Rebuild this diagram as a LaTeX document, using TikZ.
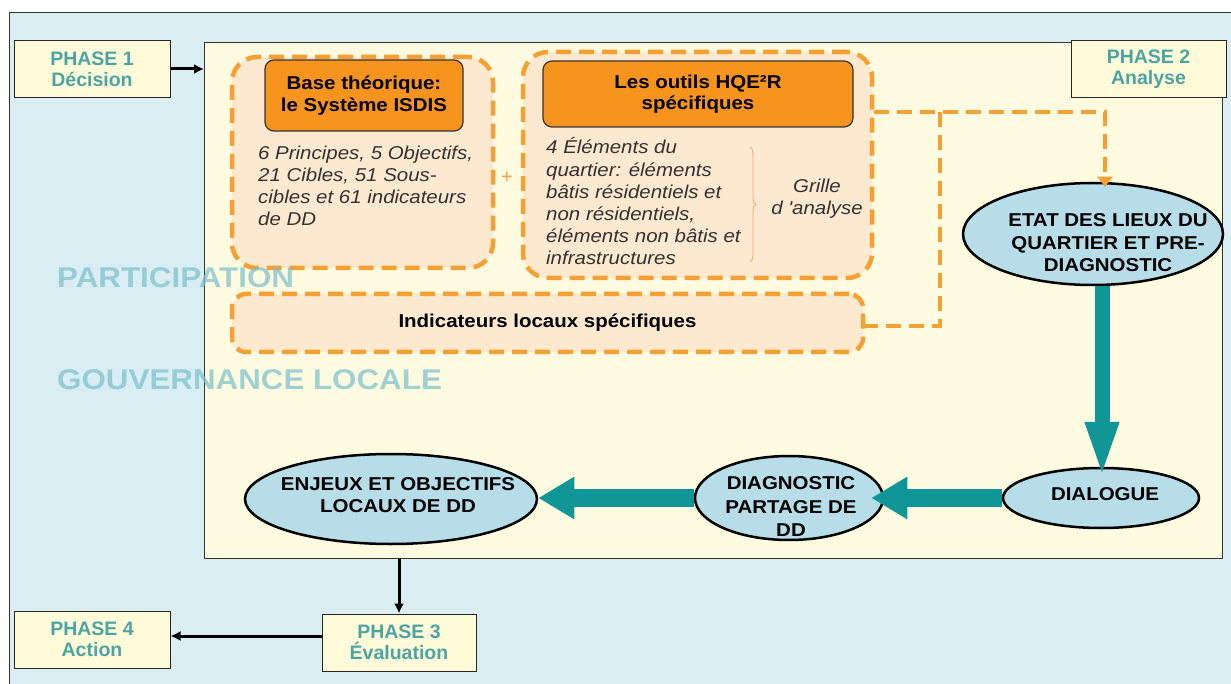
\documentclass[tikz,border=0pt]{standalone}
\usepackage{fontspec}
\setmainfont{Liberation Sans}
\newfontfamily\widesans[FakeStretch=1.1]{Liberation Sans}
\usetikzlibrary{arrows.meta,shapes.geometric,decorations.pathreplacing}

\definecolor{framebg}{RGB}{218,237,242}
\definecolor{panelfill}{RGB}{255,251,225}
\definecolor{phasefill}{RGB}{255,250,215}
\definecolor{phaseteal}{RGB}{75,165,165}
\definecolor{dashorange}{RGB}{245,160,50}
\definecolor{hdrorange}{RGB}{247,148,30}
\definecolor{peach}{RGB}{253,233,208}
\definecolor{bodygray}{RGB}{50,50,50}
\definecolor{bubblefill}{RGB}{183,221,232}
\definecolor{flowteal}{RGB}{16,150,150}
\definecolor{markteal}{RGB}{120,192,204}
\definecolor{bracecol}{RGB}{232,176,110}

\tikzset{
  phasebox/.style={draw=black!85, line width=1pt, fill=phasefill,
    minimum width=156pt, minimum height=57pt, inner sep=0pt, align=center,
    text=phaseteal, font=\fontsize{19.5}{21}\selectfont\bfseries},
  dashbox/.style={draw=dashorange, line width=4.5pt, dash pattern=on 15pt off 8pt,
    fill=peach, inner sep=0pt},
  headerbox/.style={draw=black!80, line width=1.2pt, fill=hdrorange,
    rounded corners=9pt, inner sep=0pt, align=center,
    font=\widesans\fontsize{18.6}{21.5}\selectfont\bfseries},
  bodytext/.style={inner sep=0pt, align=left, text=bodygray,
    font=\widesans\fontsize{18.6}{22.2}\selectfont\itshape},
  bubble/.style={ellipse, draw=black, line width=2.5pt, fill=bubblefill, inner sep=0pt},
  bubbletext/.style={inner sep=0pt, align=center,
    font=\widesans\fontsize{18.6}{22.5}\selectfont\bfseries},
  flowh/.style={draw=flowteal, line width=18pt, -{Triangle[width=40pt,length=36pt]}},
  flowv/.style={draw=flowteal, line width=15pt, -{Triangle[width=30pt,length=57pt]}},
  link/.style={draw=black, line width=3pt, -{Latex[length=10pt,width=10pt]}},
  feed/.style={draw=dashorange, line width=4.5pt, dash pattern=on 15pt off 8pt},
  watermark/.style={inner sep=0pt, anchor=west, text=markteal, text opacity=0.7,
    font=\widesans\fontsize{28.5}{30}\selectfont\bfseries},
}

\begin{document}
\begin{tikzpicture}[x=1pt,y=-1pt]
  \useasboundingbox (0,0) rectangle (1231,684);
  \fill[white] (0,0) rectangle (1231,684);

  % outer frame and the central panel
  \node[draw=black!80, line width=1pt, fill=framebg, anchor=north west,
        minimum width=1240pt, minimum height=700pt, inner sep=0pt] (frame) at (9,12) {};
  \node[draw=black!80, line width=1pt, fill=panelfill, anchor=north west,
        minimum width=1018pt, minimum height=516pt, inner sep=0pt] (panel) at (204,42) {};

  % phases
  \node[phasebox] (phase1) at (92,69) {PHASE 1\\Décision};
  \node[phasebox, minimum width=155pt] (phase2) at (1148.5,69) {PHASE 2\\Analyse};
  \node[phasebox, minimum width=154pt] (phase3) at (399,642.5) {PHASE 3\\Évaluation};
  \node[phasebox] (phase4) at (92,639.5) {PHASE 4\\Action};

  % dashed groups
  \node[dashbox, rounded corners=25pt, minimum width=261pt, minimum height=211pt] (boxA) at (362.5,162.5) {};
  \node[dashbox, rounded corners=25pt, minimum width=349pt, minimum height=226pt] (boxB) at (697.5,165) {};
  \node[dashbox, rounded corners=14pt, minimum width=631pt, minimum height=58pt,
        font=\widesans\fontsize{18.6}{22}\selectfont\bfseries] (boxC) at (547.5,323)
        {\raisebox{-4pt}{Indicateurs locaux spécifiques}};

  % orange headers
  \node[headerbox, minimum width=198pt, minimum height=71pt] (hdrA) at (364,95.5)
        {Base théorique:\\le Système ISDIS};
  \node[headerbox, minimum width=310pt, minimum height=66pt] (hdrB) at (698,94)
        {\raisebox{-5pt}{Les outils HQE²R}\\\raisebox{-5pt}{spécifiques}};

  % group contents
  \node[bodytext, anchor=north west] (txtA) at (258,145.5)
        {6 Principes, 5 Objectifs,\\21 Cibles, 51 Sous-\\cibles et 61 indicateurs\\de DD};
  \node[bodytext, anchor=north west] (txtB) at (546,137.5)
        {4 Éléments du\\quartier: éléments\\bâtis résidentiels et\\non résidentiels,\\éléments non bâtis et\\infrastructures};
  \coordinate (braceTop) at (750,147);
  \coordinate (braceBot) at (750,262);
  \draw[bracecol, line width=0.9pt, decorate, decoration={brace, amplitude=6pt}]
        (braceTop) -- (braceBot);
  \node[bodytext, align=center] (grille) at (817,199) {Grille\\d 'analyse};
  \node[inner sep=0pt, text=dashorange, font=\fontsize{20}{20}\selectfont] (plus) at (507,178) {+};

  % analysis bubbles
  \node[bubble, minimum width=260pt, minimum height=102pt] (etat) at (1093,234) {};
  \node[bubbletext] (etatlabel) at (1108,243) {ETAT DES LIEUX DU\\QUARTIER ET PRE-\\DIAGNOSTIC};
  \node[bubble, minimum width=196pt, minimum height=60pt] (dialogue) at (1101,498) {};
  \node[bubbletext] (dialoguelabel) at (1105,494) {DIALOGUE};
  \node[bubble, minimum width=188pt, minimum height=84pt] (diag) at (789,498) {};
  \node[bubbletext, font=\widesans\fontsize{18.6}{23.5}\selectfont\bfseries] (diaglabel) at (791,507)
        {DIAGNOSTIC\\PARTAGE DE\\DD};
  \node[bubble, minimum width=292pt, minimum height=90pt] (enjeux) at (391,499) {};
  \node[bubbletext] (enjeuxlabel) at (398,495) {ENJEUX ET OBJECTIFS\\LOCAUX DE DD};

  % dashed feed lines from the tools into the analysis
  \coordinate (j1) at (940,112);
  \coordinate (j2) at (1105,112);
  \coordinate (j3) at (940,326);
  \draw[feed, -{Triangle[width=15pt,length=10pt]}, shorten >=-5pt]
        (boxB.east |- j1) -- (j2) -- (j2 |- etat.north);
  \draw[feed] (j1) -- (j3) -- (j3 -| boxC.east);

  % main flow
  \draw[flowv, shorten >=-12pt] (etat.south -| 1102,0) -- (dialogue.north -| 1102,0);
  \draw[flowh, shorten >=-13pt] (dialogue.west) -- (diag.east);
  \draw[flowh] (diag.west) -- (diag.west -| enjeux.east);

  % phase transitions
  \draw[link] (phase1.east) -- (phase1.east -| panel.west);
  \draw[link] (phase3.north |- panel.south) -- (phase3.north);
  \coordinate (p3out) at ([yshift=6.5pt]phase3.west);
  \draw[link] (p3out) -- (p3out -| phase4.east);

  % background themes
  \node[watermark] (participation) at (57,278) {PARTICIPATION};
  \node[watermark] (gouvernance) at (57,380) {GOUVERNANCE\hspace{0.3em}LOCALE};
\end{tikzpicture}
\end{document}
